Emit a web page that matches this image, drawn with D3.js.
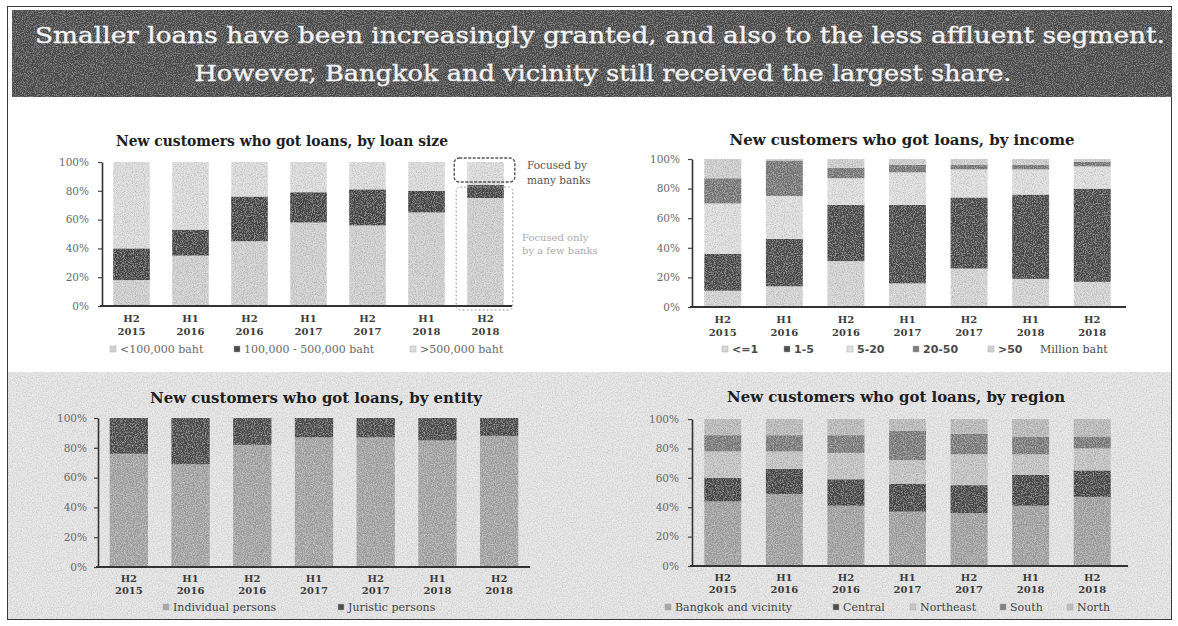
<!DOCTYPE html>
<html>
<head>
<meta charset="utf-8">
<script src="https://cdn.jsdelivr.net/npm/d3@7"></script>
<style>
  html, body { margin: 0; padding: 0; background: #fff; }
  svg { display: block; }
</style>
</head>
<body>
<svg id="chart" width="1178" height="626"></svg>
<script>
// ---- Data -------------------------------------------------------------
const periods = ["H2 2015", "H1 2016", "H2 2016", "H1 2017", "H2 2017", "H1 2018", "H2 2018"];
const yTicks = [0, 20, 40, 60, 80, 100];

const headline = [
  "Smaller loans have been increasingly granted, and also to the less affluent segment.",
  "However, Bangkok and vicinity still received the largest share."
];

// By loan size (% of new customers)
const sizeKeys = ["<100,000 baht", "100,000 - 500,000 baht", ">500,000 baht"];
const sizeUnder100k = [18, 35, 45, 58, 56, 65, 75];
const size100kTo500k = [22, 18, 31, 21, 25, 15, 9];
const sizeOver500k = [60, 47, 24, 21, 19, 20, 16];

// By income (million baht)
const incomeKeys = ["<=1", "1-5", "5-20", "20-50", ">50"];
const incomeUpTo1 = [11, 14, 31, 16, 26, 19, 17];
const income1To5 = [25, 32, 38, 53, 48, 57, 63];
const income5To20 = [34, 29, 18, 22, 19, 17, 15];
const income20To50 = [17, 24, 7, 5, 3, 3, 3];
const incomeOver50 = [13, 1, 6, 4, 4, 4, 2];

// By entity
const entityKeys = ["Individual persons", "Juristic persons"];
const entityIndividual = [76, 69, 82, 87, 87, 85, 88];
const entityJuristic = [24, 31, 18, 13, 13, 15, 12];

// By region
const regionKeys = ["Bangkok and vicinity", "Central", "Northeast", "South", "North"];
const regionBangkok = [44, 49, 41, 37, 36, 41, 47];
const regionCentral = [16, 17, 18, 19, 19, 21, 18];
const regionNortheast = [18, 12, 18, 16, 21, 14, 15];
const regionSouth = [11, 11, 12, 20, 14, 12, 8];
const regionNorth = [11, 11, 11, 8, 10, 12, 12];

// ---- Canvas -----------------------------------------------------------
const W = 1178, H = 626;
const svg = d3.select("#chart");
const defs = svg.append("defs");

// speckle texture used for the printed/scanned look
function grain(id, freq, dark, light, seed) {
  const f = defs.append("filter").attr("id", id)
    .attr("x", 0).attr("y", 0).attr("width", "100%").attr("height", "100%");
  f.append("feTurbulence").attr("type", "fractalNoise")
    .attr("baseFrequency", freq).attr("numOctaves", 2).attr("seed", seed).attr("result", "n");
  f.append("feColorMatrix").attr("in", "n").attr("type", "matrix")
    .attr("values", `0 0 0 0 0  0 0 0 0 0  0 0 0 0 0  ${dark} 0 0 0 ${-dark * 0.45}`)
    .attr("result", "blk");
  f.append("feColorMatrix").attr("in", "n").attr("type", "matrix")
    .attr("values", `0 0 0 0 1  0 0 0 0 1  0 0 0 0 1  ${-light} 0 0 0 ${light * 0.55}`)
    .attr("result", "wht");
  f.append("feComposite").attr("in", "blk").attr("in2", "SourceGraphic").attr("operator", "in").attr("result", "b2");
  f.append("feComposite").attr("in", "wht").attr("in2", "SourceGraphic").attr("operator", "in").attr("result", "w2");
  const m = f.append("feMerge");
  m.append("feMergeNode").attr("in", "SourceGraphic");
  m.append("feMergeNode").attr("in", "b2");
  m.append("feMergeNode").attr("in", "w2");
}
grain("grainBar", 0.9, 0.8, 0.8, 4);
grain("grainBg", 0.8, 0.55, 0.8, 9);
grain("grainDark", 0.9, 0.7, 0.6, 2);

svg.append("rect").attr("width", W).attr("height", H).attr("fill", "#fff");

// lower panel has a grey, noisy paper tone
svg.append("rect").attr("x", 8).attr("y", 372).attr("width", 1164).attr("height", 248)
  .attr("fill", "#e4e4e4").attr("filter", "url(#grainBg)");

// frame
svg.append("rect").attr("x", 7.5).attr("y", 6.5).attr("width", 1164).attr("height", 613)
  .attr("fill", "none").attr("stroke", "#3a3a3a").attr("stroke-width", 1);

// headline banner
svg.append("rect").attr("x", 12).attr("y", 10).attr("width", 1160).attr("height", 87)
  .attr("fill", "#4f4f4f").attr("filter", "url(#grainDark)");

const serif = "'DejaVu Serif', 'Liberation Serif', serif";
const sans = "'DejaVu Sans', 'Liberation Sans', sans-serif";

const headLayout = [{ cx: 600, y: 43, len: 1130 }, { cx: 603, y: 81, len: 817 }];
headline.forEach((t, i) => {
  svg.append("text")
    .attr("x", headLayout[i].cx).attr("y", headLayout[i].y)
    .attr("text-anchor", "middle")
    .attr("font-family", serif).attr("font-size", 22)
    .attr("fill", "#f4f4f4").attr("stroke", "#f4f4f4").attr("stroke-width", 0.35)
    .attr("textLength", headLayout[i].len).attr("lengthAdjust", "spacingAndGlyphs")
    .text(t);
});

// ---- Stacked 100% bar chart --------------------------------------------
function drawChart(cfg) {
  const g = svg.append("g");
  const rows = periods.map((p, i) => {
    const r = { period: p };
    cfg.keys.forEach((k, j) => { r[k] = cfg.series[j][i]; });
    return r;
  });
  const stacked = d3.stack().keys(cfg.keys)(rows);

  const x = d3.scaleBand().domain(periods).range([cfg.x0, cfg.x1])
    .paddingInner(cfg.pad).paddingOuter(cfg.pad / 2);
  const y = d3.scaleLinear().domain([0, 100]).range([cfg.yBottom, cfg.yTop]);

  // title
  g.append("text")
    .attr("x", cfg.titleX).attr("y", cfg.titleY)
    .attr("text-anchor", "middle")
    .attr("font-family", serif).attr("font-weight", "bold").attr("font-size", 14)
    .attr("fill", "#1e1e1e")
    .attr("textLength", cfg.titleLen).attr("lengthAdjust", "spacingAndGlyphs")
    .text(cfg.title);

  // bars
  const bars = g.append("g").attr("filter", "url(#grainBar)");
  stacked.forEach((s, j) => {
    bars.append("g").attr("fill", cfg.colors[j])
      .selectAll("rect").data(s).join("rect")
      .attr("x", d => x(d.data.period))
      .attr("y", d => y(d[1]))
      .attr("width", x.bandwidth())
      .attr("height", d => y(d[0]) - y(d[1]));
  });

  // y axis
  const ya = g.append("g").attr("transform", `translate(${cfg.x0},0)`)
    .call(d3.axisLeft(y).tickValues(yTicks).tickFormat(d => d + "%").tickSize(4).tickSizeOuter(0).tickPadding(cfg.tickPad));
  ya.select(".domain").attr("stroke", "#333").attr("stroke-width", 1.6);
  ya.selectAll(".tick line").attr("stroke", "#444").attr("stroke-width", 1.2);
  ya.selectAll(".tick text").attr("font-family", serif).attr("font-size", 10.5).attr("fill", "#6a6a6a");

  // x axis with two-line period labels
  const xa = g.append("g").attr("transform", `translate(0,${cfg.yBottom})`)
    .call(d3.axisBottom(x).tickSize(0).tickSizeOuter(0).tickFormat(""));
  xa.select(".domain").attr("d", `M${cfg.x0 - 2},0H${cfg.axisEnd}`)
    .attr("stroke", "#333").attr("stroke-width", 2);
  xa.selectAll(".tick").each(function (d) {
    const parts = d.split(" ");
    const t = d3.select(this).select("text")
      .attr("y", 0).attr("dy", null)
      .attr("font-family", serif).attr("font-weight", "bold").attr("font-size", 10)
      .attr("fill", "#3c3c3c").text(null);
    t.append("tspan").attr("x", 0).attr("y", cfg.label1).text(parts[0]);
    t.append("tspan").attr("x", 0).attr("y", cfg.label2).text(parts[1]);
  });

  // legend
  const lg = g.append("g");
  cfg.keys.forEach((k, j) => {
    const lx = cfg.legendX[j];
    lg.append("rect").attr("x", lx).attr("y", cfg.legendY - 7).attr("width", 6).attr("height", 6)
      .attr("fill", cfg.colors[j]).attr("stroke", "#aaa").attr("stroke-width", 0.5);
    lg.append("text").attr("x", lx + 10).attr("y", cfg.legendY)
      .attr("font-family", cfg.legendBold ? sans : serif)
      .attr("font-weight", cfg.legendBold ? "bold" : "normal")
      .attr("font-size", 11).attr("fill", cfg.legendColor)
      .text(k);
  });
  if (cfg.legendUnit) {
    lg.append("text").attr("x", cfg.legendUnit.x).attr("y", cfg.legendY)
      .attr("font-family", serif).attr("font-size", 11).attr("fill", cfg.legendColor)
      .text(cfg.legendUnit.text);
  }
  return { g, x, y };
}

// Loan size
const sizeChart = drawChart({
  title: "New customers who got loans, by loan size", titleX: 282, titleY: 146, titleLen: 332,
  keys: sizeKeys, series: [sizeUnder100k, size100kTo500k, sizeOver500k],
  colors: ["#d2d2d2", "#4a4a4a", "#dedede"],
  x0: 102, x1: 515, axisEnd: 512, pad: 0.38, yBottom: 306, yTop: 162, tickPad: 9,
  label1: 16, label2: 29, legendY: 353, legendX: [110, 234, 410],
  legendColor: "#6a6a6a"
});

// callouts on the latest loan-size bar
(function () {
  const { g, x, y } = sizeChart;
  const last = periods[periods.length - 1];
  const bx = x(last), bw = x.bandwidth();
  const topShare = sizeOver500k[sizeOver500k.length - 1];
  g.append("rect")
    .attr("x", bx - 13).attr("y", y(100) - 4)
    .attr("width", bw + 24).attr("height", y(100 - topShare) - y(100) + 1)
    .attr("rx", 5).attr("fill", "none").attr("stroke", "#555").attr("stroke-width", 1.4)
    .attr("stroke-dasharray", "3,1.5");
  g.append("rect")
    .attr("x", bx - 11).attr("y", y(100 - topShare) + 2)
    .attr("width", bw + 20).attr("height", y(0) - y(100 - topShare) + 2)
    .attr("rx", 4).attr("fill", "none").attr("stroke", "#9a9a9a").attr("stroke-width", 1)
    .attr("stroke-dasharray", "2,2");
  const t1 = g.append("text").attr("font-family", serif).attr("font-size", 10.5).attr("fill", "#555");
  t1.append("tspan").attr("x", 527).attr("y", 169).text("Focused by");
  t1.append("tspan").attr("x", 527).attr("y", 184).text("many banks");
  const t2 = g.append("text").attr("font-family", serif).attr("font-size", 10).attr("fill", "#aaa");
  t2.append("tspan").attr("x", 522).attr("y", 241).text("Focused only");
  t2.append("tspan").attr("x", 522).attr("y", 254).text("by a few banks");
})();

// Income
drawChart({
  title: "New customers who got loans, by income", titleX: 902, titleY: 145, titleLen: 345,
  keys: incomeKeys, series: [incomeUpTo1, income1To5, income5To20, income20To50, incomeOver50],
  colors: ["#d6d6d6", "#4e4e4e", "#e0e0e0", "#7c7c7c", "#d0d0d0"],
  x0: 692, x1: 1123, axisEnd: 1126, pad: 0.4, yBottom: 307, yTop: 159, tickPad: 8,
  label1: 16, label2: 29, legendY: 353, legendX: [722, 784, 847, 913, 988],
  legendBold: true, legendColor: "#4a4a4a",
  legendUnit: { x: 1040, text: "Million baht" }
});

// Entity
drawChart({
  title: "New customers who got loans, by entity", titleX: 316, titleY: 403, titleLen: 332,
  keys: entityKeys, series: [entityIndividual, entityJuristic],
  colors: ["#a8a8a8", "#505050"],
  x0: 98, x1: 530, axisEnd: 530, pad: 0.38, yBottom: 567, yTop: 418, tickPad: 7,
  label1: 15, label2: 27, legendY: 611, legendX: [163, 338],
  legendColor: "#444"
});

// Region
drawChart({
  title: "New customers who got loans, by region", titleX: 896, titleY: 402, titleLen: 338,
  keys: regionKeys, series: [regionBangkok, regionCentral, regionNortheast, regionSouth, regionNorth],
  colors: ["#a6a6a6", "#4c4c4c", "#c6c6c6", "#808080", "#bdbdbd"],
  x0: 692, x1: 1123, axisEnd: 1128, pad: 0.4, yBottom: 566, yTop: 419, tickPad: 9,
  label1: 15, label2: 27, legendY: 611, legendX: [665, 833, 910, 1000, 1067],
  legendColor: "#444"
});
</script>
</body>
</html>
